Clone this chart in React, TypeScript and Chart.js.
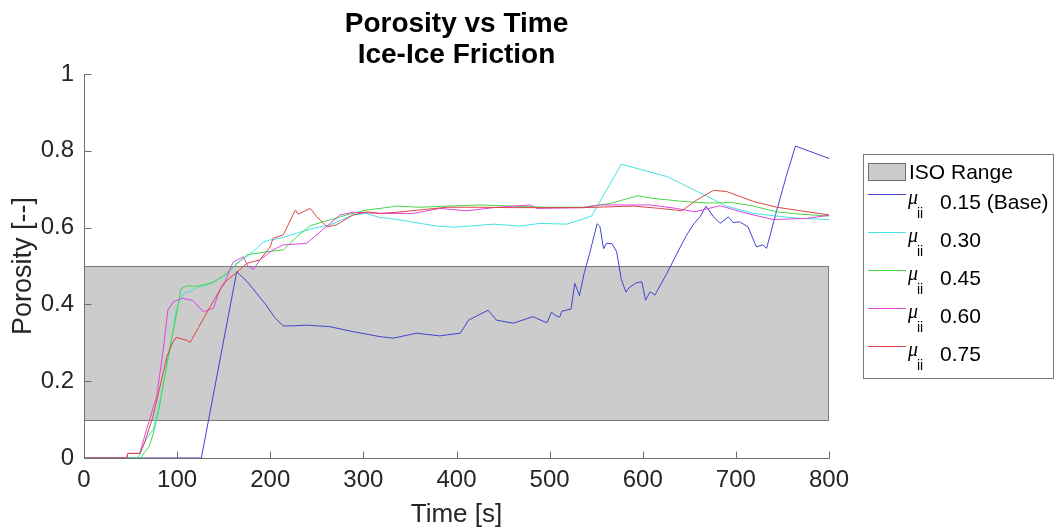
import React, { useEffect, useRef } from "react";
import { Chart, registerables } from "chart.js";

Chart.register(...registerables);

// ---------------- data ----------------
const TITLE_LINES = ["Porosity vs Time", "Ice-Ice Friction"];
const X_LABEL = "Time [s]";
const Y_LABEL = "Porosity [--]";
const X_TICKS = [0, 100, 200, 300, 400, 500, 600, 700, 800];
const X_TICK_LABELS = ["0", "100", "200", "300", "400", "500", "600", "700", "800"];
const Y_TICKS = [0, 0.2, 0.4, 0.6, 0.8, 1];
const Y_TICK_LABELS = ["0", "0.2", "0.4", "0.6", "0.8", "1"];
const ISO_RANGE = [0.1, 0.5];
const ISO_LABEL = "ISO Range";
const MU_SYMBOL = "μ";
const MU_SUB = "ii";
const SERIES_LABELS = ["0.15 (Base)", "0.30", "0.45", "0.60", "0.75"];
const SERIES_COLORS = ["#4343d2", "#45e3e3", "#45d845", "#dd45dd", "#da4545"];

const T_015 = [0, 126, 164, 175, 185, 195, 205, 214, 224, 239, 264, 289, 318, 332, 357, 382, 404, 413, 434, 443, 461, 482, 497, 502, 507, 511, 513, 523, 527, 532, 537, 543, 551, 554, 558, 561, 567, 572, 577, 582, 586, 593, 599, 603, 608, 613, 626, 636, 647, 654, 662, 668, 676, 683, 692, 697, 704, 713, 722, 729, 733, 744, 754, 764, 800];
const P_015 = [0, 0, 0.485, 0.46, 0.43, 0.4, 0.365, 0.344, 0.344, 0.346, 0.342, 0.329, 0.316, 0.312, 0.325, 0.318, 0.325, 0.359, 0.385, 0.359, 0.351, 0.368, 0.352, 0.38, 0.37, 0.367, 0.382, 0.388, 0.455, 0.423, 0.48, 0.533, 0.61, 0.603, 0.545, 0.559, 0.558, 0.537, 0.465, 0.432, 0.445, 0.456, 0.459, 0.411, 0.433, 0.424, 0.481, 0.529, 0.58, 0.607, 0.63, 0.656, 0.628, 0.611, 0.628, 0.613, 0.615, 0.602, 0.55, 0.555, 0.546, 0.646, 0.733, 0.8125, 0.78];

const T_030 = [0, 57, 60, 67, 74, 80, 90, 99, 103, 107, 114, 124, 132, 146, 150, 164, 175, 185, 193, 200, 210, 228, 246, 264, 289, 303, 318, 329, 361, 379, 397, 414, 440, 468, 490, 518, 533, 545, 577, 600, 626, 661, 690, 719, 744, 769, 800];
const P_030 = [0, 0, 0.01, 0.05, 0.073, 0.13, 0.25, 0.385, 0.41, 0.429, 0.434, 0.446, 0.45, 0.468, 0.47, 0.508, 0.525, 0.545, 0.563, 0.568, 0.572, 0.585, 0.598, 0.607, 0.633, 0.637, 0.626, 0.624, 0.611, 0.604, 0.601, 0.604, 0.609, 0.604, 0.611, 0.609, 0.62, 0.63, 0.765, 0.75, 0.733, 0.691, 0.656, 0.637, 0.63, 0.624, 0.621];

const T_045 = [0, 61, 65, 70, 74, 80, 90, 99, 104, 110, 121, 139, 153, 164, 175, 196, 214, 228, 243, 264, 282, 304, 318, 336, 361, 390, 425, 461, 497, 536, 565, 595, 611, 644, 669, 697, 719, 744, 769, 800];
const P_045 = [0, 0, 0.015, 0.03, 0.06, 0.12, 0.26, 0.37, 0.44, 0.448, 0.447, 0.457, 0.481, 0.505, 0.529, 0.537, 0.542, 0.575, 0.605, 0.62, 0.633, 0.646, 0.65, 0.656, 0.653, 0.656, 0.659, 0.656, 0.653, 0.653, 0.663, 0.683, 0.676, 0.668, 0.664, 0.665, 0.656, 0.641, 0.635, 0.63];

const T_060 = [0, 46, 47, 60, 62, 67, 78, 85, 90, 96, 106, 117, 128, 139, 146, 150, 160, 171, 176, 182, 189, 203, 214, 239, 260, 275, 289, 318, 354, 382, 411, 440, 479, 486, 536, 554, 608, 636, 656, 683, 712, 740, 776, 800];
const P_060 = [0, 0, 0.012, 0.012, 0.03, 0.073, 0.16, 0.28, 0.385, 0.407, 0.416, 0.41, 0.381, 0.39, 0.44, 0.45, 0.51, 0.524, 0.5, 0.491, 0.516, 0.542, 0.555, 0.559, 0.602, 0.633, 0.64, 0.637, 0.637, 0.65, 0.644, 0.652, 0.659, 0.65, 0.652, 0.659, 0.659, 0.65, 0.641, 0.657, 0.637, 0.621, 0.624, 0.632];

const T_075 = [0, 46, 47, 60, 65, 74, 82, 89, 95, 99, 105, 110, 114, 123, 132, 146, 150, 167, 175, 189, 200, 203, 214, 227, 230, 243, 250, 261, 271, 289, 304, 318, 336, 361, 390, 425, 461, 497, 536, 590, 618, 642, 658, 676, 690, 719, 744, 769, 800];
const P_075 = [0, 0, 0.012, 0.012, 0.04, 0.107, 0.19, 0.264, 0.3, 0.314, 0.31, 0.307, 0.301, 0.34, 0.379, 0.4375, 0.455, 0.49, 0.507, 0.516, 0.55, 0.572, 0.581, 0.646, 0.635, 0.65, 0.628, 0.602, 0.607, 0.633, 0.641, 0.637, 0.64, 0.646, 0.653, 0.653, 0.652, 0.652, 0.652, 0.656, 0.65, 0.644, 0.672, 0.697, 0.694, 0.668, 0.653, 0.644, 0.633];

const SERIES_T = [T_015, T_030, T_045, T_060, T_075];
const SERIES_P = [P_015, P_030, P_045, P_060, P_075];

// ---------------- styling ----------------
const FONT = "'Liberation Sans', Arial, Helvetica, sans-serif";
const AXIS_COLOR = "#6e6e6e";
const TEXT_COLOR = "#262626";

const overlayPlugin = {
  id: "overlay",
  beforeDatasetsDraw(chart: any) {
    const { ctx, scales } = chart;
    const x = scales.x;
    const y = scales.y;
    const x0 = Math.round(x.getPixelForValue(X_TICKS[0]));
    const x1 = Math.round(x.getPixelForValue(X_TICKS[X_TICKS.length - 1]));
    const yt = Math.round(y.getPixelForValue(ISO_RANGE[1]));
    const yb = Math.round(y.getPixelForValue(ISO_RANGE[0]));
    ctx.save();
    ctx.fillStyle = "#cccccc";
    ctx.fillRect(x0, yt, x1 - x0, yb - yt);
    ctx.strokeStyle = "#7a7a7a";
    ctx.lineWidth = 1;
    ctx.strokeRect(x0 + 0.5, yt + 0.5, x1 - x0 - 1, yb - yt);
    ctx.restore();
  },
  afterDraw(chart: any) {
    const { ctx, chartArea, scales } = chart;
    const x = scales.x;
    const y = scales.y;
    const L = Math.round(chartArea.left) + 0.5;
    const B = Math.round(chartArea.bottom) + 0.5;
    ctx.save();
    // axes
    ctx.strokeStyle = AXIS_COLOR;
    ctx.lineWidth = 1;
    ctx.beginPath();
    ctx.moveTo(L, Math.round(chartArea.top));
    ctx.lineTo(L, B);
    ctx.lineTo(Math.round(chartArea.right) + 1, B);
    // inward ticks
    X_TICKS.forEach((v) => {
      const px = Math.round(x.getPixelForValue(v)) + 0.5;
      ctx.moveTo(px, B);
      ctx.lineTo(px, B - 7);
    });
    Y_TICKS.forEach((v) => {
      const py = Math.round(y.getPixelForValue(v)) + 0.5;
      ctx.moveTo(L, py);
      ctx.lineTo(L + 7, py);
    });
    ctx.stroke();

    // title
    const cx = (chartArea.left + chartArea.right) / 2;
    ctx.fillStyle = "#000";
    ctx.font = `bold 28px ${FONT}`;
    ctx.textAlign = "center";
    ctx.textBaseline = "alphabetic";
    ctx.fillText(TITLE_LINES[0], cx, 31.5);
    ctx.fillText(TITLE_LINES[1], cx, 63);

    // legend
    const lx = 863.5, ly = 154.5, lw = 190, lh = 224;
    ctx.fillStyle = "#ffffff";
    ctx.fillRect(lx, ly, lw, lh);
    ctx.strokeStyle = "#7a7a7a";
    ctx.strokeRect(lx, ly, lw, lh);
    // ISO swatch
    ctx.fillStyle = "#cccccc";
    ctx.fillRect(868, 163, 38, 18);
    ctx.strokeStyle = "#6e6e6e";
    ctx.strokeRect(868.5, 163.5, 37, 17);
    ctx.fillStyle = "#000";
    ctx.textAlign = "left";
    ctx.font = `21px ${FONT}`;
    ctx.fillText(ISO_LABEL, 909, 179);
    SERIES_LABELS.forEach((lab, i) => {
      const lineY = 193.5 + i * 38.2;
      ctx.strokeStyle = SERIES_COLORS[i];
      ctx.lineWidth = 1;
      ctx.beginPath();
      ctx.moveTo(868, Math.round(lineY) + 0.5);
      ctx.lineTo(906, Math.round(lineY) + 0.5);
      ctx.stroke();
      ctx.fillStyle = "#000";
      ctx.font = `italic 20px 'Liberation Serif', 'DejaVu Serif', serif`;
      ctx.fillText(MU_SYMBOL, 908, lineY + 10);
      ctx.font = `14px ${FONT}`;
      ctx.fillText(MU_SUB, 917, lineY + 24);
      ctx.font = `21px ${FONT}`;
      ctx.fillText(lab, 940, lineY + 15);
    });
    ctx.restore();
  },
};

export default function App() {
  const canvasRef = useRef<HTMLCanvasElement | null>(null);

  useEffect(() => {
    document.body.style.margin = "0";
    const canvas = canvasRef.current;
    if (!canvas) return;
    const datasets = SERIES_LABELS.map((lab, i) => ({
      label: lab,
      data: SERIES_T[i].map((t, k) => ({ x: t, y: SERIES_P[i][k] })),
      borderColor: SERIES_COLORS[i],
      backgroundColor: SERIES_COLORS[i],
      borderWidth: 1,
      pointRadius: 0,
      tension: 0,
      fill: false,
      order: SERIES_LABELS.length - 1 - i,
    }));

    const chart = new Chart(canvas, {
      type: "line",
      data: { datasets },
      options: {
        animation: false,
        responsive: false,
        devicePixelRatio: 1,
        layout: { padding: { left: 0, top: 74, right: 225, bottom: 0 } },
        plugins: {
          legend: { display: false },
          title: { display: false },
          tooltip: { enabled: false },
        },
        scales: {
          x: {
            type: "linear",
            min: X_TICKS[0],
            max: X_TICKS[X_TICKS.length - 1],
            grid: { display: false, drawTicks: false },
            border: { display: false },
            afterFit: (s: any) => {
              s.height = 73;
            },
            afterBuildTicks: (s: any) => {
              s.ticks = X_TICKS.map((v) => ({ value: v }));
            },
            ticks: {
              padding: 8,
              color: TEXT_COLOR,
              font: { family: FONT, size: 24 },
              maxRotation: 0,
              autoSkip: false,
              callback: (v: any) => X_TICK_LABELS[X_TICKS.indexOf(Number(v))] ?? "",
            },
            title: {
              display: true,
              text: X_LABEL,
              color: TEXT_COLOR,
              font: { family: FONT, size: 26 },
              padding: { top: 0, bottom: 1 },
            },
          },
          y: {
            type: "linear",
            min: Y_TICKS[0],
            max: Y_TICKS[Y_TICKS.length - 1],
            grid: { display: false, drawTicks: false },
            border: { display: false },
            afterFit: (s: any) => {
              s.width = 84;
            },
            afterBuildTicks: (s: any) => {
              s.ticks = Y_TICKS.map((v) => ({ value: v }));
            },
            ticks: {
              padding: 10,
              color: TEXT_COLOR,
              font: { family: FONT, size: 24 },
              autoSkip: false,
              callback: (v: any) => {
                const idx = Y_TICKS.findIndex((t) => Math.abs(t - Number(v)) < 1e-6);
                return idx >= 0 ? Y_TICK_LABELS[idx] : "";
              },
            },
            title: {
              display: true,
              text: Y_LABEL,
              color: TEXT_COLOR,
              font: { family: FONT, size: 27 },
              padding: { top: 7, bottom: 0 },
            },
          },
        },
      },
      plugins: [overlayPlugin],
    });
    return () => chart.destroy();
  }, []);

  return (
    <div style={{ position: "absolute", left: 0, top: 0, width: 1054, height: 531, background: "#fff" }}>
      <canvas ref={canvasRef} width={1054} height={531} style={{ display: "block" }} />
    </div>
  );
}
